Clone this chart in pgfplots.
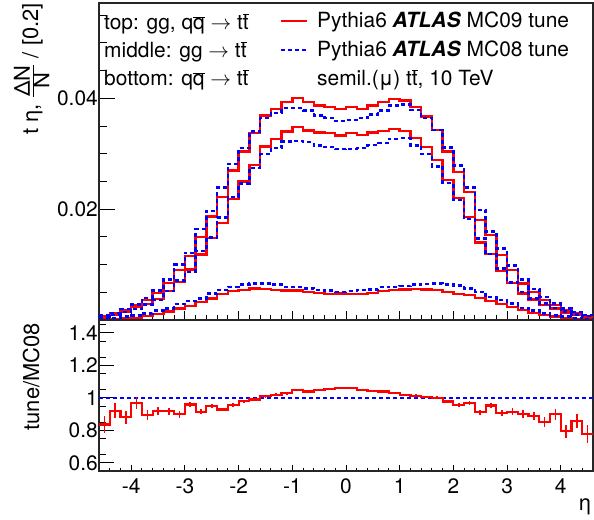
\documentclass[border=0pt]{standalone}
\usepackage{fontspec}
\setmainfont{TeX Gyre Heros}
\usepackage{pgfplots}
\pgfplotsset{compat=1.18}
\usepackage{pgfplotstable}

\definecolor{rootred}{RGB}{255,0,0}
\definecolor{rootblue}{RGB}{0,0,255}
\newcommand\tfont{\fontsize{21}{25}\selectfont}
\newcommand\lfont{\fontsize{22}{26}\selectfont}
\newcommand\ob[1]{$\overline{\hbox{#1}}$}

% eta distributions, bins of 0.2 (left edges); last row closes the histogram
% top = gg+qqbar, mid = gg, bot = qqbar; R = MC09, B = MC08; ratio = MC09/MC08
\pgfplotstableread{
x    topR   topB   midR   midB   botR   botB   ratio err
-4.6 0.0007 0.0008 0.0006 0.0006 0.0001 0.0002 0.836 0.055
-4.4 0.0012 0.0013 0.0010 0.0009 0.0002 0.0004 0.921 0.045
-4.2 0.0018 0.0020 0.0015 0.0014 0.0003 0.0006 0.881 0.040
-4.0 0.0027 0.0028 0.0023 0.0020 0.0004 0.0008 0.968 0.035
-3.8 0.0036 0.0040 0.0029 0.0028 0.0007 0.0012 0.895 0.030
-3.6 0.0049 0.0053 0.0038 0.0036 0.0011 0.0017 0.919 0.025
-3.4 0.0067 0.0073 0.0052 0.0052 0.0015 0.0021 0.919 0.022
-3.2 0.0090 0.0100 0.0069 0.0071 0.0021 0.0029 0.899 0.020
-3.0 0.0116 0.0121 0.0091 0.0087 0.0025 0.0034 0.960 0.018
-2.8 0.0150 0.0164 0.0118 0.0125 0.0032 0.0039 0.915 0.016
-2.6 0.0187 0.0197 0.0148 0.0149 0.0039 0.0048 0.949 0.014
-2.4 0.0222 0.0239 0.0175 0.0185 0.0047 0.0054 0.929 0.012
-2.2 0.0270 0.0282 0.0218 0.0222 0.0052 0.0060 0.958 0.011
-2.0 0.0304 0.0310 0.0250 0.0246 0.0054 0.0064 0.980 0.010
-1.8 0.0337 0.0340 0.0280 0.0274 0.0057 0.0066 0.990 0.009
-1.6 0.0369 0.0365 0.0313 0.0299 0.0056 0.0066 1.010 0.008
-1.4 0.0381 0.0374 0.0327 0.0310 0.0054 0.0064 1.020 0.008
-1.2 0.0393 0.0382 0.0340 0.0322 0.0053 0.0060 1.028 0.008
-1.0 0.0401 0.0382 0.0348 0.0323 0.0053 0.0059 1.050 0.007
-0.8 0.0393 0.0378 0.0342 0.0321 0.0051 0.0057 1.040 0.007
-0.6 0.0387 0.0369 0.0338 0.0315 0.0049 0.0054 1.048 0.007
-0.4 0.0384 0.0365 0.0337 0.0312 0.0047 0.0053 1.053 0.007
-0.2 0.0381 0.0359 0.0333 0.0308 0.0048 0.0051 1.061 0.007
0.0  0.0384 0.0361 0.0337 0.0309 0.0047 0.0052 1.063 0.007
0.2  0.0381 0.0364 0.0334 0.0310 0.0047 0.0054 1.048 0.007
0.4  0.0387 0.0371 0.0338 0.0316 0.0049 0.0055 1.042 0.007
0.6  0.0393 0.0378 0.0341 0.0319 0.0052 0.0059 1.040 0.007
0.8  0.0399 0.0387 0.0345 0.0327 0.0054 0.0060 1.030 0.007
1.0  0.0396 0.0389 0.0341 0.0328 0.0055 0.0061 1.018 0.008
1.2  0.0384 0.0379 0.0328 0.0315 0.0056 0.0064 1.014 0.008
1.4  0.0367 0.0365 0.0312 0.0300 0.0055 0.0065 1.006 0.008
1.6  0.0343 0.0343 0.0289 0.0277 0.0054 0.0066 1.000 0.009
1.8  0.0304 0.0311 0.0253 0.0247 0.0051 0.0064 0.978 0.010
2.0  0.0267 0.0279 0.0220 0.0217 0.0047 0.0062 0.958 0.011
2.2  0.0231 0.0239 0.0186 0.0182 0.0045 0.0057 0.968 0.012
2.4  0.0180 0.0198 0.0140 0.0147 0.0040 0.0051 0.911 0.014
2.6  0.0153 0.0160 0.0119 0.0119 0.0034 0.0041 0.954 0.016
2.8  0.0117 0.0129 0.0088 0.0093 0.0029 0.0036 0.909 0.018
3.0  0.0090 0.0098 0.0067 0.0068 0.0023 0.0030 0.915 0.020
3.2  0.0066 0.0073 0.0048 0.0051 0.0018 0.0022 0.901 0.022
3.4  0.0050 0.0056 0.0037 0.0039 0.0013 0.0017 0.889 0.025
3.6  0.0036 0.0042 0.0027 0.0030 0.0009 0.0012 0.851 0.030
3.8  0.0027 0.0030 0.0021 0.0022 0.0006 0.0008 0.899 0.035
4.0  0.0017 0.0021 0.0013 0.0015 0.0004 0.0006 0.796 0.040
4.2  0.0012 0.0014 0.0010 0.0010 0.0002 0.0004 0.859 0.045
4.4  0.0007 0.0009 0.0006 0.0007 0.0001 0.0002 0.780 0.055
4.6  0.0007 0.0009 0.0006 0.0007 0.0001 0.0002 0.780 0.055
}\etadata

\pgfplotsset{
  rootframe/.style={
    scale only axis, width=494bp,
    xmin=-4.6, xmax=4.6,
    xtick={-4,...,4},
    minor xtick={-4.6,-4.4,...,4.61},
    xtick pos=lower, ytick pos=left,
    tick align=inside,
    axis line style={line width=1.2bp, black!85},
    every tick/.style={black, line width=1bp},
    tick label style={font=\tfont},
    scaled y ticks=false,
  },
  mc09/.style={const plot mark left, rootred, line width=2.4bp, mark=none},
  mc08/.style={const plot mark left, rootblue, line width=2.4bp, mark=none,
    dash pattern=on 4bp off 3bp},
}

\begin{document}
\begin{tikzpicture}[x=1bp, y=1bp]
\useasboundingbox (0,0) rectangle (594,520);

% upper pad: eta distributions
\begin{axis}[rootframe,
  at={(99bp,200bp)}, anchor=south west, height=317bp,
  ymin=0, ymax=0.0572,
  xticklabels={},
  ytick={0,0.02,0.04}, yticklabels={,0.02,0.04},
  minor ytick={0.005,0.01,...,0.0551},
  xtick style={/pgfplots/major tick length=9bp, /pgfplots/minor tick length=5bp},
  ytick style={/pgfplots/major tick length=16bp, /pgfplots/minor tick length=8bp},
  yticklabel style={inner xsep=1bp},
]
\addplot[mc09] table[x=x, y=topR] {\etadata};
\addplot[mc09] table[x=x, y=midR] {\etadata};
\addplot[mc09] table[x=x, y=botR] {\etadata};
\addplot[mc08] table[x=x, y=topB] {\etadata};
\addplot[mc08] table[x=x, y=midB] {\etadata};
\addplot[mc08] table[x=x, y=botB] {\etadata};
\end{axis}

% lower pad: ratio of tunes
\begin{axis}[rootframe,
  at={(99bp,49bp)}, anchor=south west, height=151bp,
  ymin=0.55, ymax=1.48,
  xticklabels={-4,-3,-2,-1,0,1,2,3,4},
  ytick={0.6,0.8,1,1.2,1.4}, yticklabels={0.6,0.8,1,1.2,1.4},
  minor ytick={0.55,0.65,...,1.46},
  xtick style={/pgfplots/major tick length=6bp, /pgfplots/minor tick length=3bp},
  ytick style={/pgfplots/major tick length=15bp, /pgfplots/minor tick length=7bp},
  yticklabel style={inner xsep=1bp},
  xticklabel style={yshift=-4bp},
]
\addplot[rootblue, line width=2bp, dash pattern=on 4bp off 3bp] coordinates {(-4.6,1) (4.6,1)};
\addplot[mc09, line width=2.2bp] table[x=x, y=ratio] {\etadata};
% statistical uncertainties at the bin centres
\addplot[rootred, line width=1.6bp, only marks, mark size=0pt, forget plot,
  skip coords between index={46}{47},
  error bars/.cd, y dir=both, y explicit, error mark=none,
  error bar style={rootred, solid, line width=1.6bp}]
  table[x expr=\thisrow{x}+0.1, y=ratio, y error=err] {\etadata};
\end{axis}

% axis titles
\node[rotate=90, anchor=base east, font=\lfont, inner sep=0pt] at (38,517)
  {t η, $\frac{\hbox{ΔN}}{\hbox{N}}$ / [0.2]};
\node[rotate=90, anchor=base east, font=\lfont, inner sep=0pt] at (39,197) {tune/MC08};
\node[font=\lfont, inner sep=0pt] at (585,13) {η};

% process labels
\node[anchor=base west, font=\tfont, inner sep=0pt] at (104,490) {top: gg, q\ob{q} $\rightarrow$ t\ob{t}};
\node[anchor=base west, font=\tfont, inner sep=0pt] at (104,462) {middle: gg $\rightarrow$ t\ob{t}};
\node[anchor=base west, font=\tfont, inner sep=0pt] at (104,434) {bottom: q\ob{q} $\rightarrow$ t\ob{t}};

% legend
\draw[rootred, line width=2.5bp] (281,499) -- (307,499);
\draw[rootblue, line width=2.5bp, dash pattern=on 4bp off 3bp] (281,470) -- (307,470);
\node[anchor=base west, font=\tfont, inner sep=0pt] at (317,492) {Pythia6 \textbf{\textit{ATLAS}} MC09 tune};
\node[anchor=base west, font=\tfont, inner sep=0pt] at (317,463) {Pythia6 \textbf{\textit{ATLAS}} MC08 tune};
\node[anchor=base west, font=\tfont, inner sep=0pt] at (317,434) {semil.(μ) t\ob{t}, 10 TeV};
\end{tikzpicture}
\end{document}
